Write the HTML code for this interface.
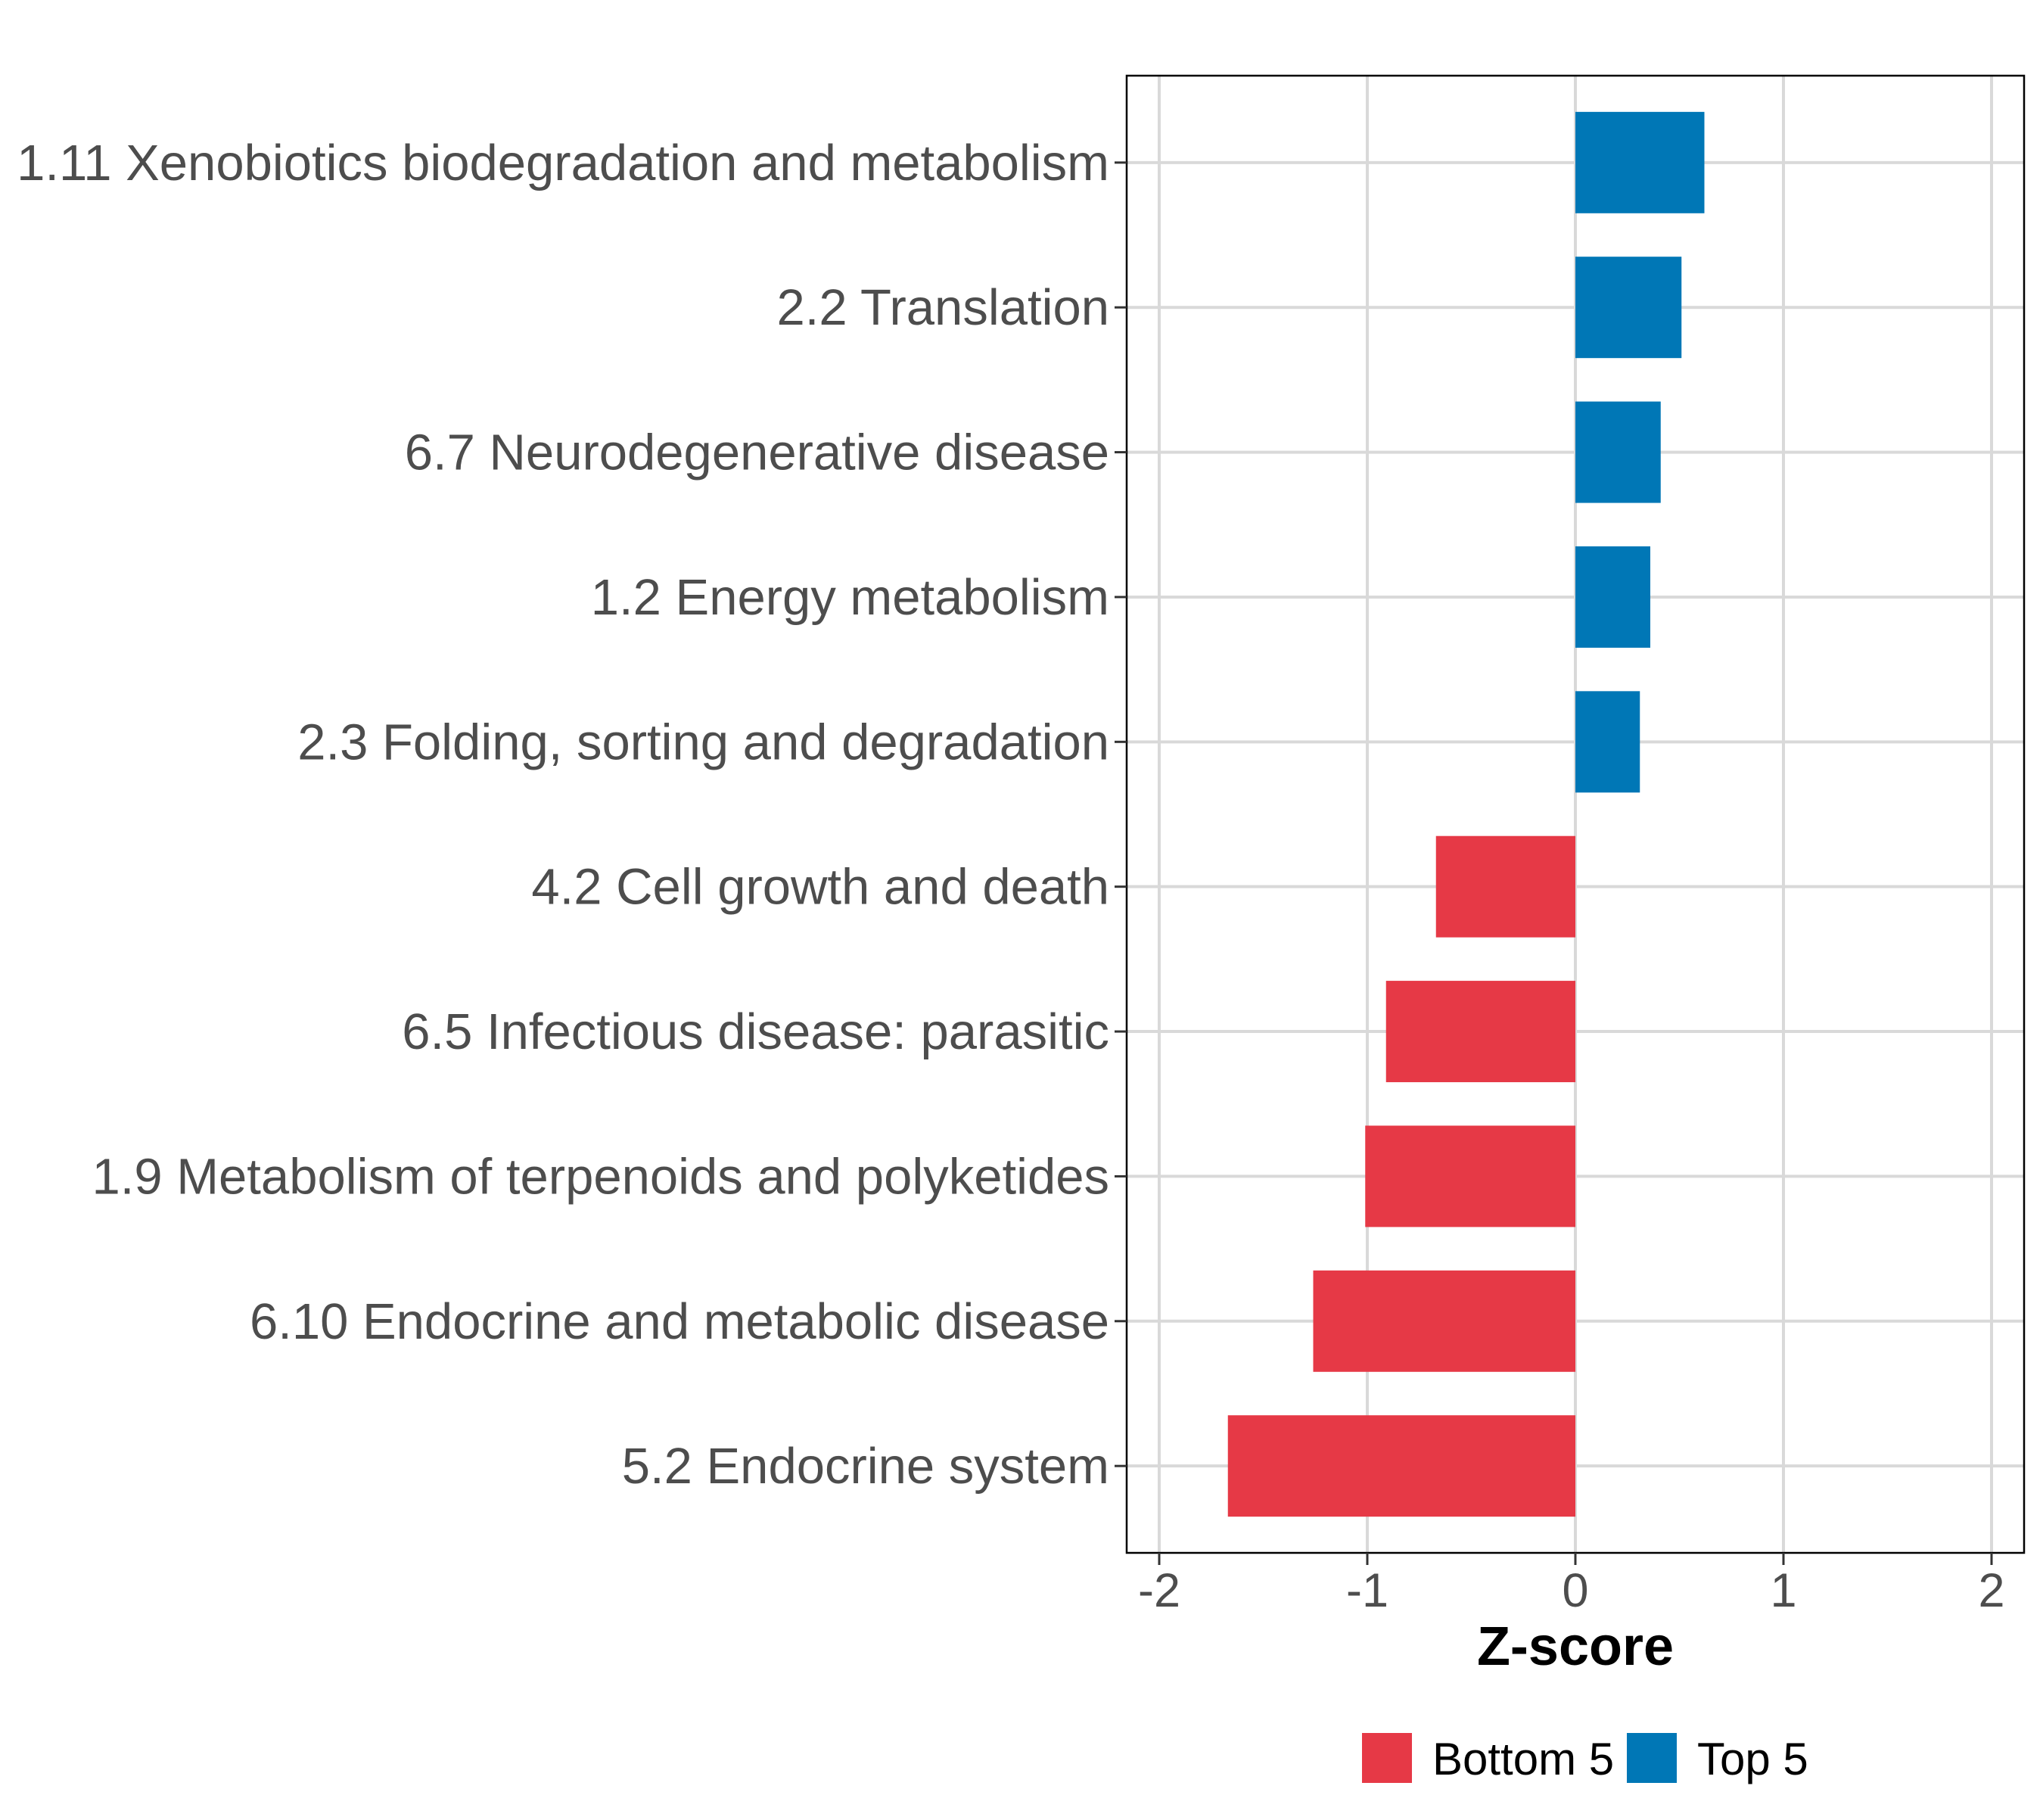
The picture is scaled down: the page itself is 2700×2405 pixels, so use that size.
<!DOCTYPE html>
<html><head><meta charset="utf-8"><style>
html,body{margin:0;padding:0;background:#fff}
svg text{font-family:"Liberation Sans",sans-serif}
</style></head><body>
<svg id="chart" width="2700" height="2400" viewBox="0 0 2700 2400" xmlns="http://www.w3.org/2000/svg">
<rect width="2700" height="2400" fill="#fff"/>
<g id="grid"></g>
<g id="bars"></g>
<rect x="1489" y="100" width="1186" height="1952" fill="none" stroke="#000" stroke-width="2.5"/>
<g id="yaxis"></g>
<g id="xaxis"></g>
<text x="2082" y="2200" font-size="72" font-weight="bold" text-anchor="middle" fill="#000">Z-score</text>
<g>
<rect x="1800" y="2290" width="66" height="66" fill="#E63946"/>
<text x="1893" y="2345" font-size="60" fill="#000">Bottom 5</text>
<rect x="2150" y="2290" width="66" height="66" fill="#0077B6"/>
<text x="2243" y="2345" font-size="60" fill="#000">Top 5</text>
</g>
</svg>
<script>
const categories = ["1.11 Xenobiotics biodegradation and metabolism","2.2 Translation","6.7 Neurodegenerative disease","1.2 Energy metabolism","2.3 Folding, sorting and degradation","4.2 Cell growth and death","6.5 Infectious disease: parasitic","1.9 Metabolism of terpenoids and polyketides","6.10 Endocrine and metabolic disease","5.2 Endocrine system"];
const zscores = [0.62, 0.51, 0.41, 0.36, 0.31, -0.67, -0.91, -1.01, -1.26, -1.67];
const groups = ["Top 5","Top 5","Top 5","Top 5","Top 5","Bottom 5","Bottom 5","Bottom 5","Bottom 5","Bottom 5"];
const xTicks = [-2, -1, 0, 1, 2];
const xTickLabels = ["-2","-1","0","1","2"];

const NS = "http://www.w3.org/2000/svg";
const panelTop = 100, panelBottom = 2052, panelLeft = 1489, panelRight = 2675;
const x0 = 2082, unit = 275;
function xScale(v){ return x0 + v*unit; }
const step = (panelBottom - panelTop) / (categories.length - 1 + 1.2);
function yScale(i){ return panelTop + 0.6*step + i*step; }
const colors = {"Top 5":"#0077B6","Bottom 5":"#E63946"};
function mk(tag, attrs, parent){ const e=document.createElementNS(NS,tag); for(const k in attrs) e.setAttribute(k,attrs[k]); parent.appendChild(e); return e; }
const grid=document.getElementById('grid'), bars=document.getElementById('bars'), ya=document.getElementById('yaxis'), xa=document.getElementById('xaxis');

xTicks.forEach((t,i)=>{
  const x=xScale(t);
  const g=mk('line',{x1:x,x2:x,y1:panelTop,y2:panelBottom,stroke:'#d9d9d9','stroke-width':4},grid);
  
  
  const tk=mk('line',{x1:x,x2:x,y1:panelBottom,y2:panelBottom+16,stroke:'#333','stroke-width':3},xa);
  
  
  const tx=mk('text',{x:x,y:2123,'font-size':63,'text-anchor':'middle',fill:'#4d4d4d'},xa);
  tx.textContent=xTickLabels[i];
  
  
});
categories.forEach((c,i)=>{
  const y=yScale(i);
  const g=mk('line',{x1:panelLeft,x2:panelRight,y1:y,y2:y,stroke:'#d9d9d9','stroke-width':4},grid);
  
  
  const v=zscores[i], h=step*0.7;
  const r=mk('rect',{x:Math.min(xScale(0),xScale(v)),y:y-h/2,width:Math.abs(xScale(v)-xScale(0)),height:h,fill:colors[groups[i]]},bars);
  
  
  const tk=mk('line',{x1:panelLeft-16,x2:panelLeft,y1:y,y2:y,stroke:'#333','stroke-width':3},ya);
  
  
  const tx=mk('text',{x:1466,y:y+23,'font-size':67,'text-anchor':'end',fill:'#4d4d4d'},ya);
  tx.textContent=c;
  
  
});
</script>
</body></html>
